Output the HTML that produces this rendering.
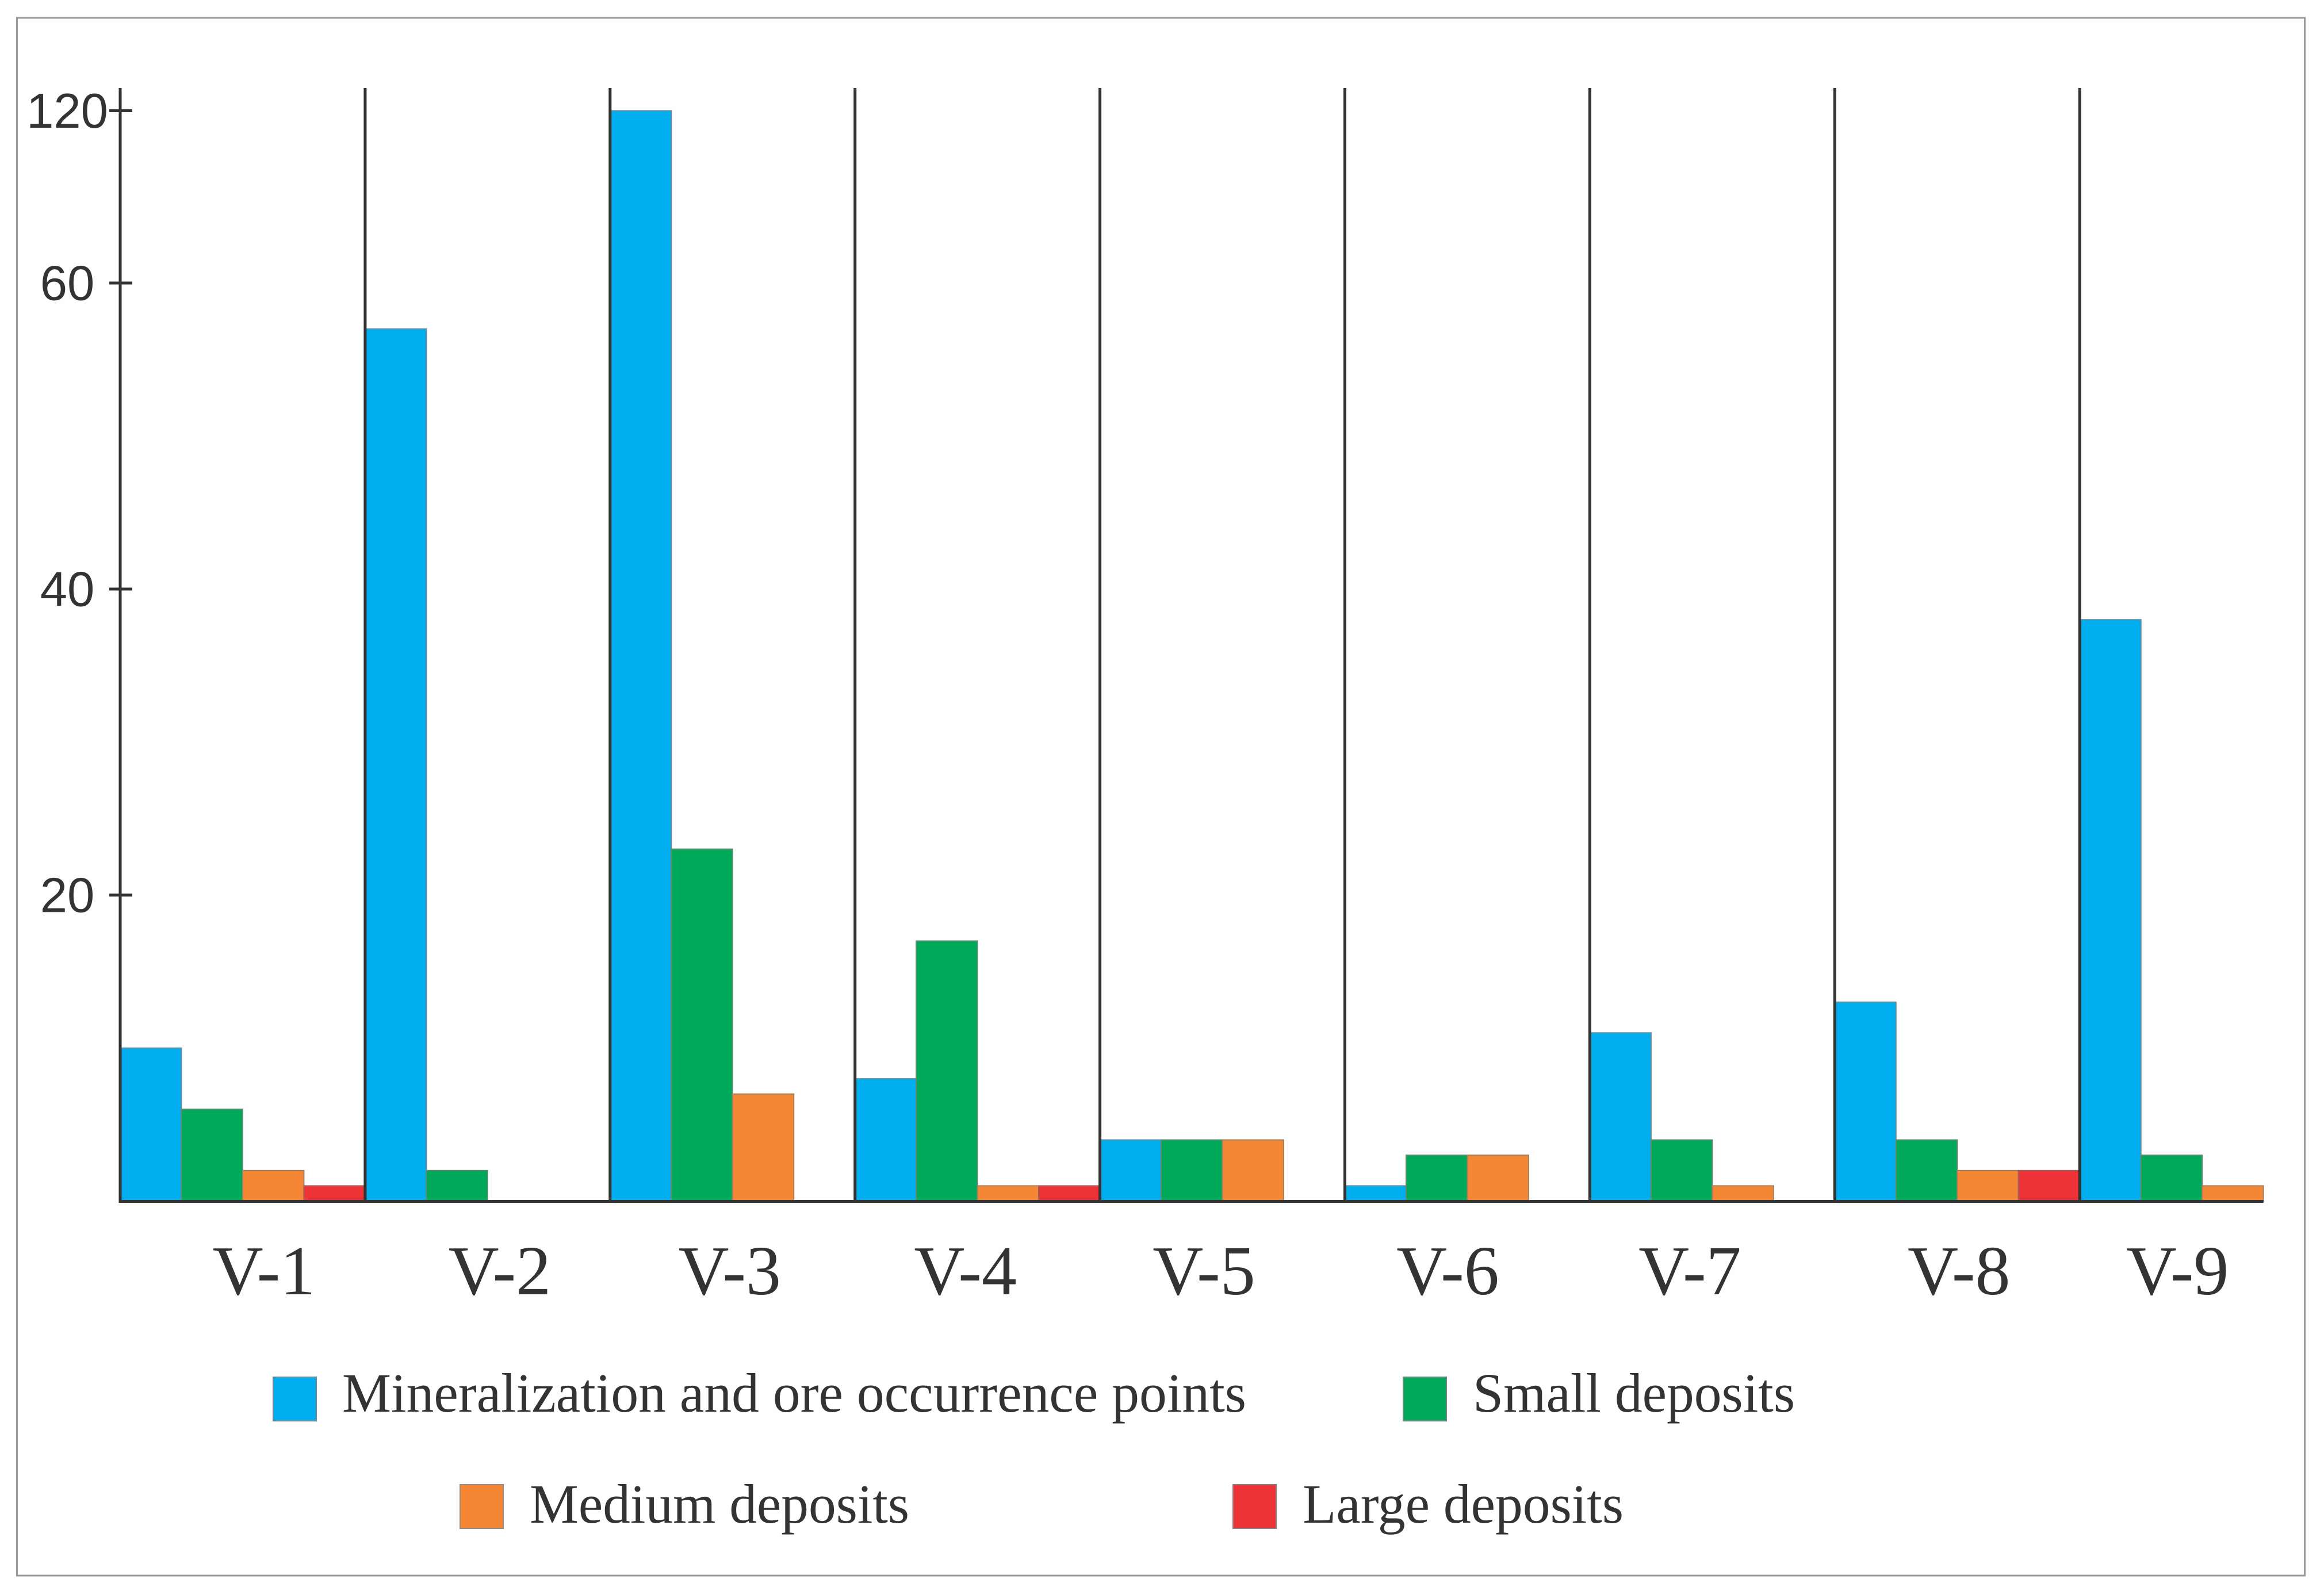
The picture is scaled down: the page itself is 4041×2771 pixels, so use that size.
<!DOCTYPE html>
<html lang="en">
<head>
<meta charset="utf-8">
<title>Deposits by metallogenic unit</title>
<style>
  html, body { margin: 0; padding: 0; background: #fff; }
  svg { display: block; }
  .y-tick { font-family: "Liberation Sans", sans-serif; font-size: 85px; fill: #333; text-anchor: middle; }
  .x-label { font-family: "Liberation Serif", serif; font-size: 122px; fill: #333; text-anchor: middle; }
  .legend-text { font-family: "Liberation Serif", serif; font-size: 96px; fill: #333; }
</style>
</head>
<body>
<svg id="chart" xmlns="http://www.w3.org/2000/svg" width="4041" height="2771" viewBox="0 0 4041 2771">
  <rect x="0" y="0" width="4041" height="2771" fill="#ffffff"/>
  <rect x="29.5" y="31" width="3978" height="2708" fill="#fefefe" stroke="#999999" stroke-width="3"/>
  <g id="bars"></g>
  <g id="axes"></g>
  <g id="labels"></g>
  <g>
    <g>
      <rect x="475" y="2394" width="75" height="76" fill="#00AEEF" stroke="#6f8a96" stroke-width="2"/>
      <text class="legend-text" x="595" y="2454" textLength="1572" lengthAdjust="spacingAndGlyphs">Mineralization and ore occurrence points</text>
    </g>
    <g>
      <rect x="2440" y="2394" width="75" height="76" fill="#00A859" stroke="#6f8a7a" stroke-width="2"/>
      <text class="legend-text" x="2561" y="2454" textLength="560" lengthAdjust="spacingAndGlyphs">Small deposits</text>
    </g>
    <g>
      <rect x="800" y="2581" width="75" height="76" fill="#F58634" stroke="#9a8a7a" stroke-width="2"/>
      <text class="legend-text" x="921" y="2647" textLength="660" lengthAdjust="spacingAndGlyphs">Medium deposits</text>
    </g>
    <g>
      <rect x="2144" y="2581" width="75" height="76" fill="#EE3338" stroke="#9a7a7a" stroke-width="2"/>
      <text class="legend-text" x="2265" y="2647" textLength="558" lengthAdjust="spacingAndGlyphs">Large deposits</text>
    </g>
  </g>
</svg>
<script>
const categories = ["V-1", "V-2", "V-3", "V-4", "V-5", "V-6", "V-7", "V-8", "V-9"];
const mineralizationPoints = [10, 57, 120, 8, 4, 1, 11, 13, 38];
const smallDeposits = [6, 2, 23, 17, 4, 3, 4, 4, 3];
const mediumDeposits = [2, 0, 7, 1, 4, 3, 1, 2, 1];
const largeDeposits = [1, 0, 0, 1, 0, 0, 0, 2, 0];
const yTicks = [120, 60, 40, 20];

const NS = "http://www.w3.org/2000/svg";
const PLOT_LEFT = 209;
const GROUP_WIDTH = 425.9;
const BAR_WIDTH = GROUP_WIDTH / 4;
const BASELINE = 2088;
const AXIS_TOP = 153;
const UNIT = 26.6;
const BREAK_VALUE = 60;
const TOP_VALUE = 120;
const TOP_PIXEL = 192.5;
const AXIS_COLOR = "#333333";
const seriesNames = ["mineralization", "small", "medium", "large"];
const seriesValues = [mineralizationPoints, smallDeposits, mediumDeposits, largeDeposits];
const seriesColors = ["#00AEEF", "#00A859", "#F58634", "#EE3338"];
const seriesStrokes = ["#5f8ea3", "#5f8a70", "#a0805f", "#a05f5f"];

function yScale(v) {
  if (v <= BREAK_VALUE) return BASELINE - v * UNIT;
  const breakPixel = BASELINE - BREAK_VALUE * UNIT;
  return breakPixel - (v - BREAK_VALUE) / (TOP_VALUE - BREAK_VALUE) * (breakPixel - TOP_PIXEL);
}
function groupX(i) { return PLOT_LEFT + i * GROUP_WIDTH; }
function barX(i, s) { return groupX(i) + s * BAR_WIDTH; }
function labelNudge(i) {
  switch (i) {
    case 0: return 37;
    case 1: return 21;
    case 2: return -5;
    case 3: return -21;
    case 4: return -32;
    case 5: return -34;
    case 6: return -39;
    case 7: return 3;
    default: return -43;
  }
}
function make(tag, attrs, parent) {
  const node = document.createElementNS(NS, tag);
  Object.keys(attrs).forEach(function (k) { node.setAttribute(k, attrs[k]); });
  parent.appendChild(node);
  return node;
}

const barsGroup = document.getElementById("bars");
const axesGroup = document.getElementById("axes");
const labelsGroup = document.getElementById("labels");

seriesValues.forEach(function (values, s) {
  values.forEach(function (v, i) {
    if (v <= 0) return;
    const top = yScale(v);
    const bar = make("rect", {
      x: barX(i, s), y: top, width: BAR_WIDTH, height: BASELINE - top,
      fill: seriesColors[s], stroke: seriesStrokes[s], "stroke-width": 2
    }, barsGroup);
    
    
  });
});

categories.forEach(function (c, i) {
  const sep = make("line", {
    x1: groupX(i), x2: groupX(i), y1: AXIS_TOP, y2: BASELINE + 2,
    stroke: AXIS_COLOR, "stroke-width": 5
  }, axesGroup);
  
  

  const label = make("text", {
    class: "x-label", x: groupX(i) + GROUP_WIDTH / 2 + labelNudge(i), y: 2250
  }, labelsGroup);
  label.textContent = c;
  
  
});

const baseLine = make("line", {
  x1: PLOT_LEFT - 2.5, x2: groupX(categories.length - 1) + 3 * BAR_WIDTH, y1: BASELINE + 0.5, y2: BASELINE + 0.5,
  stroke: AXIS_COLOR, "stroke-width": 5
}, axesGroup);



yTicks.forEach(function (t) {
  const py = yScale(t);
  const tick = make("line", {
    x1: 190, x2: 230, y1: py, y2: py, stroke: AXIS_COLOR, "stroke-width": 5
  }, axesGroup);
  
  

  const label = make("text", { class: "y-tick", x: 117, y: py + 29.5 }, labelsGroup);
  label.textContent = String(t);
  
  
});
</script>
</body>
</html>
